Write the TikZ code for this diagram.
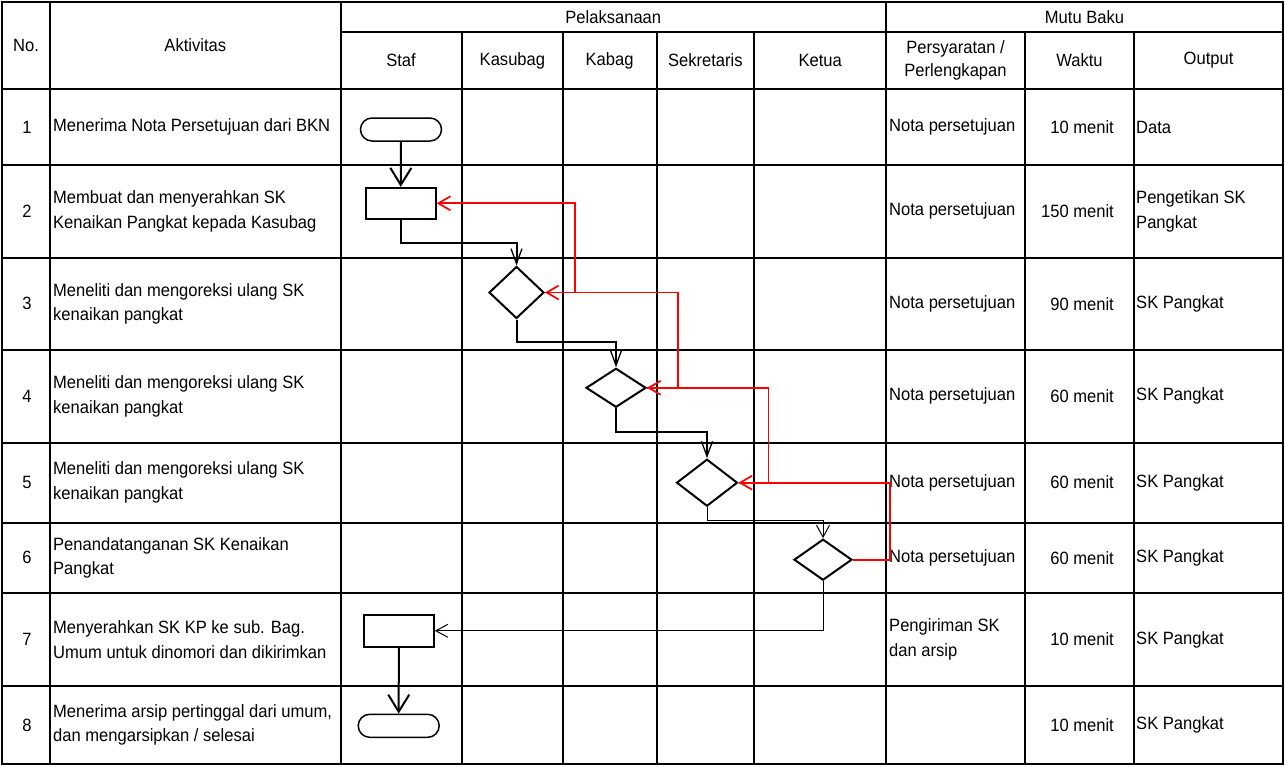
\documentclass[tikz,border=0pt]{standalone}
\usepackage{fontspec}
\setmainfont{Liberation Sans}[FakeStretch=0.93]
\usetikzlibrary{arrows.meta,calc,shapes.geometric}
\definecolor{FlowRed}{RGB}{255,0,0}

\tikzset{
    gridline/.style={line width=2pt},
    cell/.style={inner sep=0pt, align=left},
    terminal/.style={draw, line width=1.5pt, rounded corners=11.5pt, minimum width=81pt, minimum height=23pt, inner sep=0pt},
    process/.style={draw, line width=2pt, minimum width=70pt, minimum height=31pt, inner sep=0pt},
    decision/.style={draw, diamond, line width=2pt, inner sep=0pt},
    flowmain/.style={line width=2pt, -{Straight Barb[length=17pt,width=21pt]}},
    flowstep/.style={line width=2pt, -{Straight Barb[length=15pt,width=11pt,line width=1.3pt]}},
    flowthin/.style={line width=1pt, -{Straight Barb[length=12pt,width=13pt]}},
    flowback/.style={FlowRed, line width=1.7pt, -{Straight Barb[length=12pt,width=14pt]}}
}

\begin{document}
\begin{tikzpicture}[x=1pt, y=-1pt, font=\fontsize{17.8}{24.5}\selectfont]
    \useasboundingbox (0,0) rectangle (1285,766);
    % Table frame and rules
    \draw[gridline] (2,2) rectangle (1283,764);
    \foreach \x in {50, 340.5, 886}
        \draw[gridline] (\x,2) -- (\x,764);
    \foreach \x in {462, 562.7, 656.5, 754.3, 1025, 1134}
        \draw[gridline] (\x,32) -- (\x,764);
    \draw[gridline] (340.5,32) -- (1283,32);
    \foreach \y in {89, 165, 257.5, 350, 442.5, 522.5, 593, 686}
        \draw[gridline] (2,\y) -- (1283,\y);

    % Header
    \node (hNo) at (26,45.5) {No.};
    \node (hAkt) at (195.3,45.5) {Aktivitas};
    \node (hPel) at (613.3,17) {Pelaksanaan};
    \node (hMutu) at (1084.5,17) {Mutu Baku};
    \foreach \name/\x in {Staf/401, Kasubag/512.4, Kabag/609.6, Sekretaris/705.4, Ketua/820.2, Waktu/1079.5, Output/1208.5}
        \node (h\name) at (\x,60.5) {\name};
    \node[align=center, font=\fontsize{17.8}{22.5}\selectfont] (hSyarat) at (955.5,60.5) {Persyaratan /\\Perlengkapan};

    % Rows
    \foreach \i/\y/\akt/\syarat/\waktu/\hasil in {
        1/127/{Menerima Nota Persetujuan dari BKN}/{Nota persetujuan}/10/Data,
        2/211.3/{Membuat dan menyerahkan SK\\Kenaikan Pangkat kepada Kasubag}/{Nota persetujuan}/150/{Pengetikan SK\\Pangkat},
        3/303.8/{Meneliti dan mengoreksi ulang SK\\kenaikan pangkat}/{Nota persetujuan}/90/{SK Pangkat},
        4/396.3/{Meneliti dan mengoreksi ulang SK\\kenaikan pangkat}/{Nota persetujuan}/60/{SK Pangkat},
        5/482.5/{Meneliti dan mengoreksi ulang SK\\kenaikan pangkat}/{Nota persetujuan}/60/{SK Pangkat},
        6/557.8/{Penandatanganan SK Kenaikan\\Pangkat}/{Nota persetujuan}/60/{SK Pangkat},
        7/639.5/{Menyerahkan SK KP ke sub. Bag.\\Umum untuk dinomori dan dikirimkan}/{Pengiriman SK\\dan arsip}/10/{SK Pangkat},
        8/725/{Menerima arsip pertinggal dari umum,\\dan mengarsipkan / selesai}/{}/10/{SK Pangkat}}{
        \node (no\i) at (27,\y) {\i};
        \node[cell, anchor=west] (akt\i) at (53,\y) {\akt};
        \node[cell, anchor=west] (syarat\i) at (889,\y) {\syarat};
        \node[inner sep=0pt, anchor=east] (waktu\i) at (1114,\y) {\waktu\ menit};
        \node[cell, anchor=west] (out\i) at (1136,\y) {\hasil};
    }

    % Flow symbols
    \node[terminal] (start) at (401,129.5) {};
    \node[process] (buat) at (400.7,203.3) {};
    \node[decision, minimum width=55pt, minimum height=52pt] (cekKasubag) at (516.5,292.5) {};
    \node[decision, minimum width=60pt, minimum height=39pt] (cekKabag) at (616,387.8) {};
    \node[decision, minimum width=61pt, minimum height=47pt] (cekSekr) at (707,482.7) {};
    \node[decision, minimum width=58pt, minimum height=41pt] (ttdKetua) at (823,559.7) {};
    \node[process, minimum height=32pt] (kirim) at (398.8,630.8) {};
    \node[terminal] (selesai) at (398.7,725.8) {};

    % Forward flow
    \draw[flowmain] (start) -- (buat);
    \draw[flowstep] (buat.south) |- ([yshift=22.4pt]cekKasubag.north) -- (cekKasubag.north);
    \draw[flowstep] (cekKasubag.south) |- ([yshift=25pt]cekKabag.north) -- (cekKabag.north);
    \draw[flowstep] (cekKabag.south) |- ([yshift=26.6pt]cekSekr.north) -- (cekSekr.north);
    \draw[flowthin] (cekSekr.south) |- ([yshift=17.6pt]ttdKetua.north) -- (ttdKetua.north);
    \draw[flowthin] (ttdKetua.south) |- (kirim.east);
    \draw[flowmain] (kirim) -- (selesai);

    % Returns for correction
    \draw[flowback] (cekKasubag.east) -- ++(30,0) |- (buat.east);
    \draw[flowback] (cekKabag.east) -- ++(31,0) |- (cekKasubag.east);
    \draw[flowback] (cekSekr.east) -- ++(30,0) |- (cekKabag.east);
    \draw[flowback] (ttdKetua.east) -- ++(37,0) |- (cekSekr.east);
\end{tikzpicture}
\end{document}
